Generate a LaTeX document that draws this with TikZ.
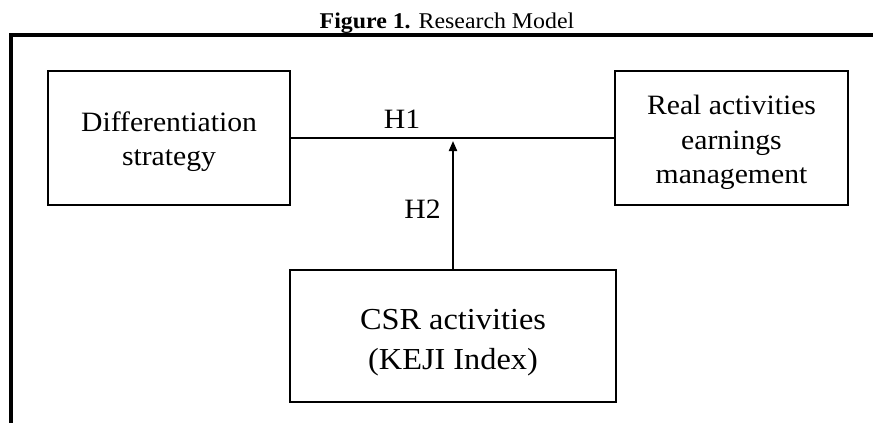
\documentclass[tikz,border=0pt]{standalone}
\usepackage{fontspec}
\setmainfont[FakeStretch=1.06]{Liberation Serif}
\usepackage{tikz}
\usetikzlibrary{positioning}
\usetikzlibrary{shapes.geometric, arrows, arrows.meta}
\tikzstyle{arrow} = [line width=2pt,->,>={Triangle[length=10pt,width=8pt]}]
\tikzstyle{box} = [draw,line width=2.7pt,outer sep=0pt,align=center,font=\fontsize{28}{34.5}\selectfont]
\tikzstyle{frame} = [line width=4pt]
\newcommand\padtop[1]{\rule{0pt}{#1}}

\begin{document}
\begin{tikzpicture}[x=1pt,y=-1pt]
	\useasboundingbox (0,0) rectangle (873,423);
	%Title and frame
	\node (title) at (447,23) {\fontsize{22.5}{26}\selectfont\textbf{Figure 1.} Research Model};
	\draw[frame] (11,423) -- (11,35) -- (873,35);
	
	%Nodes
	\node (rect) [box,minimum width=242pt,minimum height=134pt] at (169,138) (diff) {\padtop{27pt}Differentiation\\strategy};
	\node (rect) [box,minimum width=233pt,minimum height=134pt, right=325pt of diff] (rem) {\padtop{29pt}Real activities\\earnings\\management};
	\node (rect) [box,minimum width=326pt,minimum height=132pt, below=65pt of diff.south east, anchor=north west, font=\fontsize{30.5}{40}\selectfont] (csr) {\padtop{33pt}CSR activities\\(KEJI Index)};
	\coordinate (hit) at (csr.north |- diff.east);
	
	%Lines
	\draw[line width=2pt] (diff.east) -- node[above=5pt, pos=0.345, font=\fontsize{28}{34}\selectfont] (h1) {H1} (rem.west);
	\draw[arrow, shorten >=3pt] (csr.north) -- node[left=8pt, pos=0.46, font=\fontsize{28}{34}\selectfont] (h2) {H2} (hit);
\end{tikzpicture}
\end{document}
